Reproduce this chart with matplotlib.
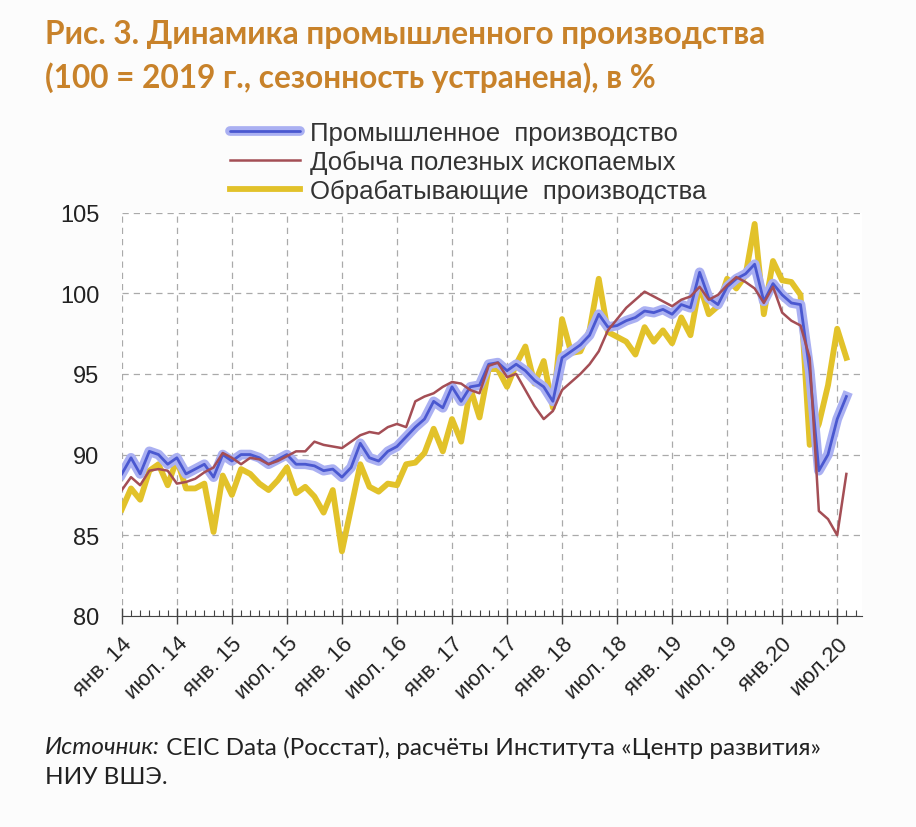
import numpy as np
import matplotlib.pyplot as plt
from matplotlib.ticker import MultipleLocator
from matplotlib.lines import Line2D
import matplotlib.patheffects as pe

# monthly values, Jan 2014 .. Aug 2020 (100 = 2019)
industry = [88.8, 89.8, 88.8, 90.2, 90.0, 89.4, 89.8, 88.8, 89.1, 89.4,
            88.6, 90.0, 89.6, 90.0, 90.0, 89.8, 89.4, 89.7, 90.0, 89.4,
            89.4, 89.3, 89.0, 89.1, 88.6, 89.2, 90.7, 89.8, 89.6, 90.2,
            90.5, 91.1, 91.7, 92.2, 93.3, 92.9, 94.2, 93.3, 94.2, 94.3,
            95.6, 95.7, 95.2, 95.6, 95.2, 94.6, 94.2, 93.3, 96.0, 96.4,
            96.8, 97.4, 98.7, 97.9, 98.0, 98.3, 98.5, 98.9, 98.8, 99.0,
            98.7, 99.3, 99.1, 101.3, 99.7, 99.3, 100.4, 100.9, 101.2, 101.8,
            99.5, 100.6, 99.9, 99.4, 99.3, 95.2, 89.0, 90.0, 92.2, 93.6]
mining = [87.8, 88.6, 88.1, 89.0, 89.1, 89.0, 88.2, 88.3, 88.5, 88.9,
          89.2, 90.1, 89.8, 89.4, 89.8, 89.7, 89.4, 89.6, 89.9, 90.2,
          90.2, 90.8, 90.6, 90.5, 90.4, 90.8, 91.2, 91.4, 91.3, 91.7,
          91.9, 91.7, 93.3, 93.6, 93.8, 94.2, 94.5, 94.4, 94.0, 93.8,
          95.5, 95.7, 94.8, 95.0, 94.0, 93.0, 92.2, 92.7, 94.0, 94.5,
          95.0, 95.6, 96.4, 97.7, 98.4, 99.1, 99.6, 100.1, 99.8, 99.5,
          99.2, 99.6, 99.8, 100.4, 99.6, 99.9, 100.5, 101.0, 100.7, 100.3,
          99.4, 100.4, 98.8, 98.3, 98.0, 96.0, 86.5, 86.0, 85.0, 88.8]
manufacturing = [86.6, 87.9, 87.2, 89.0, 89.4, 88.1, 89.7, 87.9, 87.9, 88.2,
                 85.2, 88.7, 87.5, 89.1, 88.8, 88.2, 87.8, 88.4, 89.2, 87.6,
                 88.0, 87.4, 86.4, 87.8, 84.0, 86.7, 89.4, 88.0, 87.7, 88.2,
                 88.1, 89.4, 89.5, 90.1, 91.6, 90.2, 92.2, 90.8, 94.1, 92.3,
                 95.3, 95.3, 94.2, 95.6, 96.7, 94.4, 95.8, 92.9, 98.4, 96.3,
                 96.4, 97.7, 100.9, 97.6, 97.3, 97.0, 96.2, 97.9, 97.0, 97.7,
                 96.9, 98.5, 97.4, 100.5, 98.7, 99.2, 100.9, 100.3, 101.1, 104.3,
                 98.7, 102.0, 100.8, 100.7, 99.9, 90.6, 91.9, 94.3, 97.8, 96.0]
tick_labels = ['янв. 14', 'июл. 14', 'янв. 15', 'июл. 15', 'янв. 16', 'июл. 16',
               'янв. 17', 'июл. 17', 'янв. 18', 'июл. 18', 'янв. 19', 'июл. 19',
               'янв.20', 'июл.20']
series_names = ['Промышленное  производство', 'Добыча полезных ископаемых',
                'Обрабатывающие  производства']

months = np.arange(len(industry))
title_col = '#c8822a'

plt.rcParams['font.family'] = ['Liberation Sans', 'DejaVu Sans']

fig = plt.figure(figsize=(9.16, 8.28), dpi=100)
fig.patch.set_facecolor('#fcfcfc')
ax = fig.add_axes([0.133, 0.255, 0.808, 0.487])
ax.set_facecolor('white')

# lines
ax.plot(months, manufacturing, color='#e2c22a', lw=4.2, zorder=3)
ax.plot(months, industry, color='#4a58d0', lw=2.0, zorder=4,
        path_effects=[pe.Stroke(linewidth=7, foreground='#aab0f2'), pe.Normal()])
ax.plot(months, mining, color='#a44e55', lw=1.8, zorder=5)

ax.set_xlim(0, 80.7)
ax.set_ylim(80, 105)
ax.yaxis.set_major_locator(MultipleLocator(5))
ax.xaxis.set_minor_locator(MultipleLocator(1))
ax.set_xticks(np.arange(0, 79, 6))
ax.set_xticklabels(tick_labels, rotation=45, ha='right', va='top',
                   rotation_mode='anchor', fontsize=16, color='#222222')
ax.tick_params(axis='x', which='major', direction='inout', length=12, width=1, color='#444444', pad=6)
ax.tick_params(axis='x', which='minor', direction='in', length=4, width=0.8, color='#444444')
ax.tick_params(axis='y', length=0, pad=16, labelsize=17, labelcolor='#222222')

ax.grid(True, which='major', ls=(0, (5, 4)), color='#aaaaaa', lw=0.9)
for s in ['top', 'right', 'left']:
    ax.spines[s].set_visible(False)
ax.spines['bottom'].set_color('#444444')

# legend
handles = [
    Line2D([], [], color='#4a58d0', lw=2.0, solid_capstyle='round',
           path_effects=[pe.Stroke(linewidth=7, foreground='#aab0f2', capstyle='round'), pe.Normal()]),
    Line2D([], [], color='#a44e55', lw=1.8),
    Line2D([], [], color='#e2c22a', lw=4.2),
]
fig.legend(handles, series_names, loc='upper left', bbox_to_anchor=(0.232, 0.874),
           frameon=False, fontsize=18.5, handlelength=2.7, handletextpad=0.4,
           labelspacing=0.18, labelcolor='#333333', borderpad=0.2)

# title
fig.text(0.049, 0.958, 'Рис. 3. Динамика промышленного производства', fontsize=22.8,
         fontweight='bold', color=title_col, family='Lato', va='center')
fig.text(0.049, 0.906, '(100 = 2019 г., сезонность устранена), в %', fontsize=22.8,
         fontweight='bold', color=title_col, family='Lato', va='center')

# source note
src = fig.text(0.049, 0.097, 'Источник:', fontsize=17.5, style='italic', family='Lato',
               color='#222222', va='center')
fig.add_artist(plt.Annotation(' CEIC Data (Росстат), расчёты Института «Центр развития»',
                              xy=(1, 0.5), xycoords=src, va='center', ha='left',
                              fontsize=17.5, family='Lato', color='#222222'))
fig.text(0.049, 0.061, 'НИУ ВШЭ.', fontsize=17.5, family='Lato', color='#222222', va='center')

fig.savefig('out.png', dpi=100, facecolor=fig.get_facecolor())
